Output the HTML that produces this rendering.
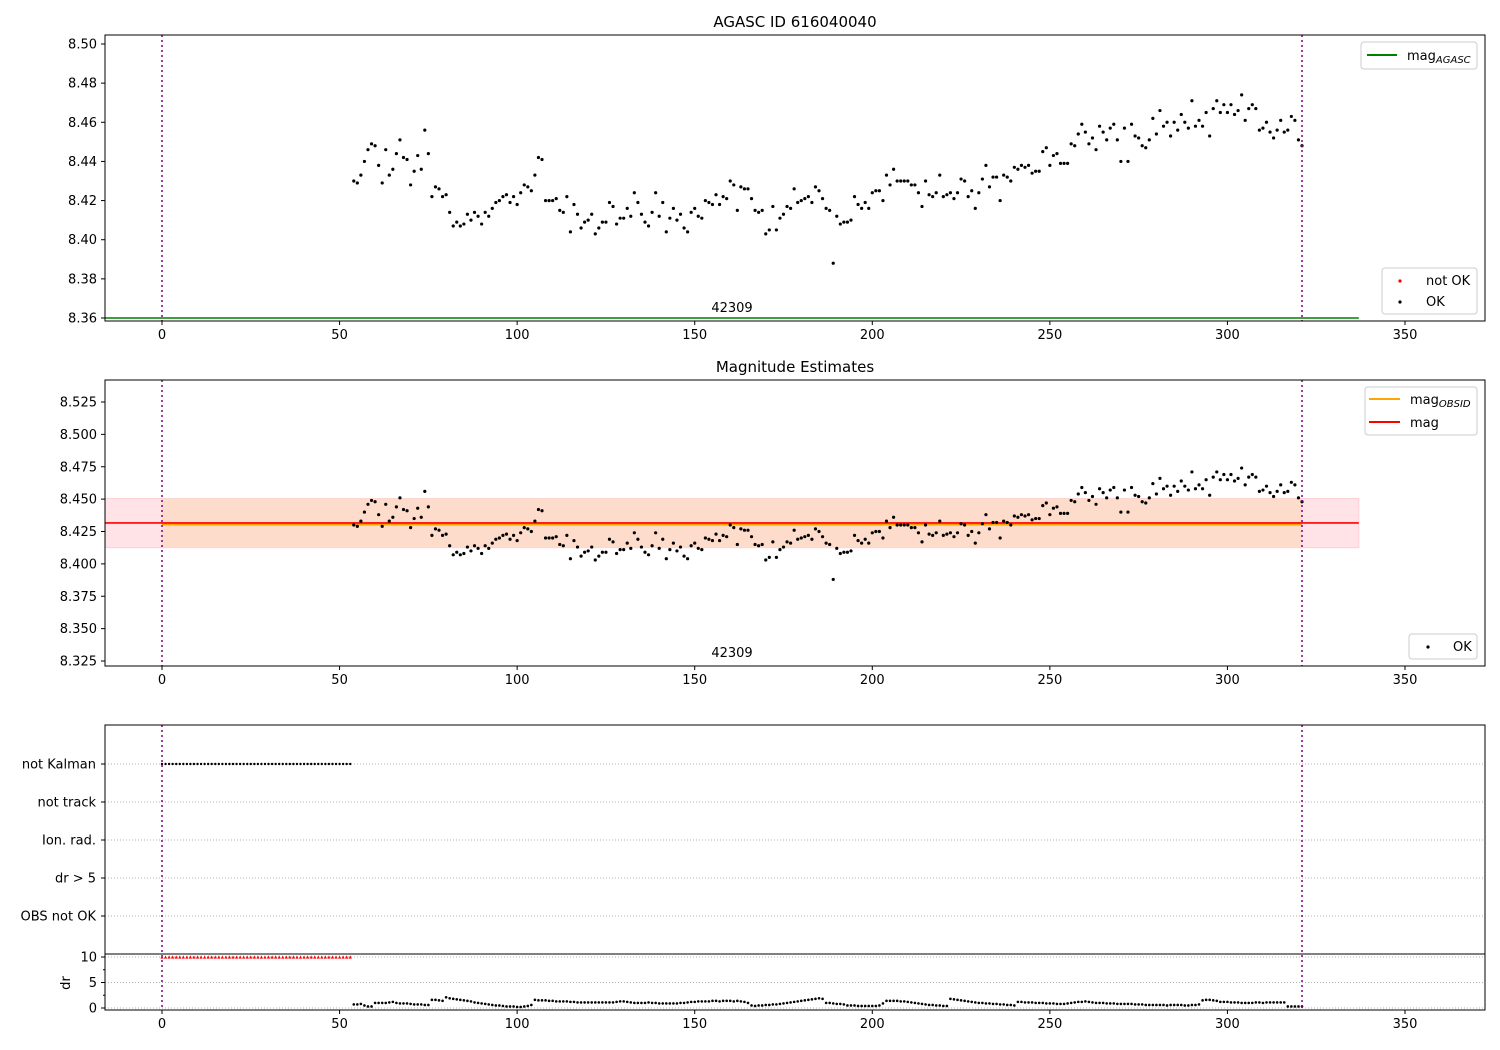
<!DOCTYPE html>
<html><head><meta charset="utf-8">
<style>
body{margin:0;background:#fff;}
svg{display:block;font-family:"DejaVu Sans","Liberation Sans",sans-serif;}
</style></head>
<body>
<svg id="fig" width="1500" height="1050" xmlns="http://www.w3.org/2000/svg"></svg>
<script>
const magX0 = 54;
const magValues = [8.430,8.429,8.433,8.440,8.446,8.449,8.448,8.438,8.429,8.446,8.433,8.436,8.444,8.451,8.442,8.441,8.428,8.435,8.443,8.436,8.456,8.444,8.422,8.427,8.426,8.422,8.423,8.414,8.407,8.409,8.407,8.408,8.413,8.410,8.414,8.412,8.408,8.414,8.412,8.416,8.419,8.420,8.422,8.423,8.419,8.422,8.418,8.424,8.428,8.427,8.425,8.433,8.442,8.441,8.420,8.420,8.420,8.421,8.415,8.414,8.422,8.404,8.418,8.413,8.406,8.409,8.410,8.413,8.403,8.406,8.409,8.409,8.419,8.417,8.408,8.411,8.411,8.416,8.412,8.424,8.419,8.413,8.409,8.407,8.414,8.424,8.412,8.419,8.404,8.411,8.416,8.410,8.413,8.406,8.404,8.414,8.416,8.412,8.411,8.420,8.419,8.418,8.423,8.418,8.422,8.421,8.430,8.428,8.415,8.427,8.426,8.426,8.421,8.415,8.414,8.415,8.403,8.405,8.417,8.405,8.411,8.413,8.417,8.416,8.426,8.419,8.420,8.421,8.422,8.419,8.427,8.425,8.421,8.416,8.415,8.388,8.412,8.408,8.409,8.409,8.410,8.422,8.418,8.416,8.419,8.416,8.424,8.425,8.425,8.420,8.433,8.428,8.436,8.430,8.430,8.430,8.430,8.428,8.428,8.424,8.417,8.430,8.423,8.422,8.424,8.433,8.422,8.423,8.424,8.421,8.424,8.431,8.430,8.422,8.425,8.416,8.424,8.431,8.438,8.427,8.432,8.432,8.420,8.433,8.432,8.430,8.437,8.436,8.438,8.437,8.438,8.434,8.435,8.435,8.445,8.447,8.438,8.443,8.444,8.439,8.439,8.439,8.449,8.448,8.454,8.459,8.455,8.449,8.452,8.446,8.458,8.455,8.451,8.457,8.459,8.451,8.440,8.457,8.440,8.459,8.453,8.452,8.448,8.447,8.451,8.462,8.454,8.466,8.458,8.460,8.453,8.460,8.456,8.464,8.460,8.457,8.471,8.458,8.461,8.458,8.465,8.453,8.467,8.471,8.465,8.469,8.465,8.469,8.464,8.466,8.474,8.461,8.467,8.469,8.467,8.456,8.457,8.460,8.455,8.452,8.456,8.461,8.455,8.456,8.463,8.461,8.451,8.448];
const drValues = [0.7,0.7,0.8,0.5,0.3,0.3,1.0, 1.0,1.0,1.0,1.1,1.2,1.0,0.9, 0.9,0.9,0.8,0.7,0.7,0.7,0.6,0.6, 1.6,1.6,1.5,1.4, 2.1,1.9,1.8,1.7,1.6,1.5,1.4,1.3,1.1, 1.0,0.9,0.8,0.7,0.6,0.5,0.5,0.4,0.3,0.3,0.3,0.2,0.2,0.3,0.4,0.6, 1.6,1.5,1.5,1.5,1.4,1.4,1.3,1.3,1.3,1.3,1.2,1.2,1.1, 1.1,1.1,1.1,1.1,1.1,1.1,1.1,1.1,1.1,1.1,1.2,1.3,1.3,1.2,1.1,1.0,1.0,1.0,1.0,1.1,1.0,1.0,0.9,0.9,0.9,0.9,0.9,0.9,1.0,1.0,1.1,1.2,1.2,1.3,1.3,1.3,1.3, 1.4,1.4,1.3,1.4,1.4,1.4,1.3,1.4,1.3,1.2,1.0, 0.5,0.4,0.5,0.5,0.6,0.6,0.7,0.7,0.8,0.9,1.0, 1.1,1.2,1.3,1.4,1.5,1.6,1.7,1.8,1.9,1.8, 1.0,1.0,0.9,0.8,0.8,0.7,0.5,0.5,0.5,0.4,0.4,0.4,0.4,0.4,0.4,0.5,0.9, 1.4,1.4,1.4,1.4,1.3,1.3,1.2,1.1, 1.0,0.9,0.8,0.7,0.6,0.6,0.5,0.5,0.4,0.4, 1.8,1.7,1.6,1.5,1.4,1.3,1.2,1.1,1.0,1.0,0.9,0.9,0.8,0.8,0.7,0.7,0.6,0.6,0.5, 1.2,1.2,1.1,1.1,1.1,1.0,1.0,1.0,0.9,0.9,0.9,0.8,0.8,0.8,0.9,1.0,1.1,1.2,1.2, 1.3,1.2,1.1,1.0,1.0,1.0,0.9,0.9,0.9,0.8,0.8,0.8,0.8,0.8,0.7,0.7,0.7,0.6,0.6,0.6,0.6,0.6,0.6,0.5,0.6,0.6,0.6,0.6,0.5,0.5,0.6,0.6,0.7, 1.5,1.6,1.6,1.5,1.4,1.2,1.2,1.2,1.1,1.1,1.1,1.0,1.0,1.0,1.0,1.1,1.1,1.0,1.1,1.1,1.1,1.1,1.1,1.1, 0.3,0.3,0.3,0.3,0.3];
const notKalmanStart = 0;
const notKalmanEnd = 53;
const drClipped = 10;
const xTicks = [0,50,100,150,200,250,300,350];
const p1Ticks = [8.36,8.38,8.40,8.42,8.44,8.46,8.48,8.50];
const p2Ticks = [8.325,8.350,8.375,8.400,8.425,8.450,8.475,8.500,8.525];
const categories = ["not Kalman","not track","Ion. rad.","dr > 5","OBS not OK"];
const drTicks = [0,5,10];
const magAgasc = 8.36;
const magMean = 8.4316;
const magObsid = 8.4312;
const bandLow = 8.4125;
const bandHigh = 8.4505;
const obsStart = 0, obsEnd = 321;
const lineStart = -16, lineEnd = 337;
const obsLabel = "42309";

const NS="http://www.w3.org/2000/svg";
const svg=document.getElementById('fig');
function el(tag,attrs,parent,text){const e=document.createElementNS(NS,tag);for(const k in attrs)e.setAttribute(k,attrs[k]);if(text!==undefined)e.textContent=text;(parent||svg).appendChild(e);return e;}
const L=105,R=1485;
const xs=v=>162+(v)*(1243/350);
function yLin(v0,p0,v1,p1){return v=>p0+(v-v0)*(p1-p0)/(v1-v0);}
const y1=yLin(8.36,318,8.50,44);
const y2=yLin(8.325,661,8.525,402);
const yd=yLin(0,1008,10,957);

function xAxis(g,bottom,name){
  xTicks.forEach(t=>{const x=xs(t);
    const tk=el('line',{x1:x,x2:x,y1:bottom,y2:bottom+4,stroke:'#000','stroke-width':1},g);
    
    const lb=el('text',{x:x,y:bottom+18,'text-anchor':'middle','font-size':13},g,String(t));
    });
}
function yAxisTicks(g,ticks,scale,fmt,name){
  ticks.forEach(t=>{const y=scale(t);
    el('line',{x1:L-4,x2:L,y1:y,y2:y,stroke:'#000'},g);
    const lb=el('text',{x:L-8,y:y+4.5,'text-anchor':'end','font-size':13},g,fmt(t));
    });
}
function frame(g,top,bottom){el('rect',{x:L,y:top,width:R-L,height:bottom-top,fill:'none',stroke:'#000','stroke-width':1},g);}
function vlines(g,top,bottom){[obsStart,obsEnd].forEach(v=>{const l=el('line',{x1:xs(v),x2:xs(v),y1:top,y2:bottom,stroke:'#800080','stroke-width':1.5,'stroke-dasharray':'2,3'},g);});}

// Panel 1
const g1=el('g',{});
const cp1=el('clipPath',{id:'c1'});el('rect',{x:L,y:35,width:R-L,height:286},cp1);
const pg1=el('g',{'clip-path':'url(#c1)'},g1);
const gl=el('line',{x1:xs(lineStart),x2:xs(lineEnd),y1:y1(magAgasc),y2:y1(magAgasc),stroke:'#008000','stroke-width':1.5},pg1);

magValues.forEach((v,i)=>{const c=el('circle',{cx:xs(magX0+i),cy:y1(v),r:1.6,fill:'#000'},pg1);
  });
vlines(pg1,35,321);
el('text',{x:xs(160.5),y:312,'text-anchor':'middle','font-size':13},pg1,obsLabel);
frame(g1,35,321);xAxis(g1,321,'p1');
yAxisTicks(g1,p1Ticks,y1,t=>t.toFixed(2),'p1');
const t1=el('text',{x:795,y:27,'text-anchor':'middle','font-size':15},g1,'AGASC ID 616040040');

// legend 1 top
const lg1=el('g',{},g1);
el('rect',{x:1361,y:42,width:116,height:27,rx:3,fill:'#fff',stroke:'#ccc'},lg1);
el('line',{x1:1367,x2:1397,y1:55,y2:55,stroke:'#008000','stroke-width':2},lg1);
const lt=el('text',{x:1407,y:60,'font-size':13},lg1);lt.innerHTML='mag<tspan font-size="10" font-style="italic" dy="3">AGASC</tspan>';
// legend 1 bottom
const lg2=el('g',{},g1);
el('rect',{x:1382,y:268,width:95,height:46,rx:3,fill:'#fff',stroke:'#ccc'},lg2);
el('circle',{cx:1400,cy:281,r:1.6,fill:'#f00'},lg2);el('text',{x:1426,y:285,'font-size':13},lg2,'not OK');
el('circle',{cx:1400,cy:302,r:1.6,fill:'#000'},lg2);el('text',{x:1426,y:306,'font-size':13},lg2,'OK');

// Panel 2
const g2=el('g',{});
const cp2=el('clipPath',{id:'c2'});el('rect',{x:L,y:380,width:R-L,height:286},cp2);
const pg2=el('g',{'clip-path':'url(#c2)'},g2);
const b1=el('rect',{x:xs(lineStart),y:y2(bandHigh),width:xs(lineEnd)-xs(lineStart),height:y2(bandLow)-y2(bandHigh),fill:'#ffe3e6',stroke:'#fcd0d4'},pg2);

const b2=el('rect',{x:xs(obsStart),y:y2(bandHigh),width:xs(obsEnd)-xs(obsStart),height:y2(bandLow)-y2(bandHigh),fill:'#fedccb'},pg2);

const ol=el('line',{x1:xs(obsStart),x2:xs(obsEnd),y1:y2(magObsid)+1,y2:y2(magObsid)+1,stroke:'#ffa500','stroke-width':2},pg2);

const ml=el('line',{x1:xs(lineStart),x2:xs(lineEnd),y1:y2(magMean),y2:y2(magMean),stroke:'#f00','stroke-width':1.6},pg2);

magValues.forEach((v,i)=>{const c=el('circle',{cx:xs(magX0+i),cy:y2(v),r:1.6,fill:'#000'},pg2);
  });
vlines(pg2,380,666);
el('text',{x:xs(160.5),y:657,'text-anchor':'middle','font-size':13},pg2,obsLabel);
frame(g2,380,666);xAxis(g2,666,'p2');
yAxisTicks(g2,p2Ticks,y2,t=>t.toFixed(3),'p2');
const t2=el('text',{x:795,y:372,'text-anchor':'middle','font-size':15},g2,'Magnitude Estimates');

const lg3=el('g',{},g2);
el('rect',{x:1365,y:387,width:112,height:48,rx:3,fill:'#fff',stroke:'#ccc'},lg3);
el('line',{x1:1369,x2:1400,y1:399,y2:399,stroke:'#ffa500','stroke-width':2},lg3);
const lt2=el('text',{x:1410,y:404,'font-size':13},lg3);lt2.innerHTML='mag<tspan font-size="10" font-style="italic" dy="3">OBSID</tspan>';
el('line',{x1:1369,x2:1400,y1:422,y2:422,stroke:'#f00','stroke-width':2},lg3);
el('text',{x:1410,y:427,'font-size':13},lg3,'mag');
const lg4=el('g',{},g2);
el('rect',{x:1409,y:634,width:68,height:25,rx:3,fill:'#fff',stroke:'#ccc'},lg4);
el('circle',{cx:1428,cy:647,r:1.6,fill:'#000'},lg4);el('text',{x:1453,y:651,'font-size':13},lg4,'OK');

// Panel 3
const g3=el('g',{});
categories.forEach((c,i)=>{const y=764+i*38;
  el('line',{x1:L,x2:R,y1:y,y2:y,stroke:'#b0b0b0','stroke-dasharray':'1,2'},g3);
  el('line',{x1:L-4,x2:L,y1:y,y2:y,stroke:'#000'},g3);
  const lb=el('text',{x:L-9,y:y+4.5,'text-anchor':'end','font-size':13},g3,c);
  });
for(let x=notKalmanStart;x<=notKalmanEnd;x++){const c=el('circle',{cx:xs(x),cy:764,r:1.2,fill:'#000'},g3);
  }
drTicks.forEach(t=>{const y=yd(t);
  el('line',{x1:L,x2:R,y1:y,y2:y,stroke:'#b0b0b0','stroke-dasharray':'1,2'},g3);
  el('line',{x1:L-4,x2:L,y1:y,y2:y,stroke:'#000'},g3);
  el('text',{x:L-8,y:y+4.5,'text-anchor':'end','font-size':13},g3,String(t));});
[2.5,7.5].forEach(t=>el('line',{x1:L-2,x2:L,y1:yd(t),y2:yd(t),stroke:'#000'},g3));
const dl=el('text',{x:70,y:983,'text-anchor':'middle','font-size':13,transform:'rotate(-90 70 983)'},g3,'dr');

for(let x=notKalmanStart;x<=notKalmanEnd;x++){const c=el('path',{d:`M${xs(x)-1.6},${yd(drClipped)+1.6}L${xs(x)},${yd(drClipped)-1.6}L${xs(x)+1.6},${yd(drClipped)+1.6}Z`,fill:'#f00'},g3);
  }
drValues.forEach((v,i)=>{const c=el('circle',{cx:xs(magX0+i),cy:yd(v),r:1.3,fill:'#000'},g3);
  });
vlines(g3,725,1010);
frame(g3,725,1010);
el('line',{x1:L,x2:R,y1:954,y2:954,stroke:'#000','stroke-width':1},g3);
xAxis(g3,1010,'p3');
</script>
</body></html>
